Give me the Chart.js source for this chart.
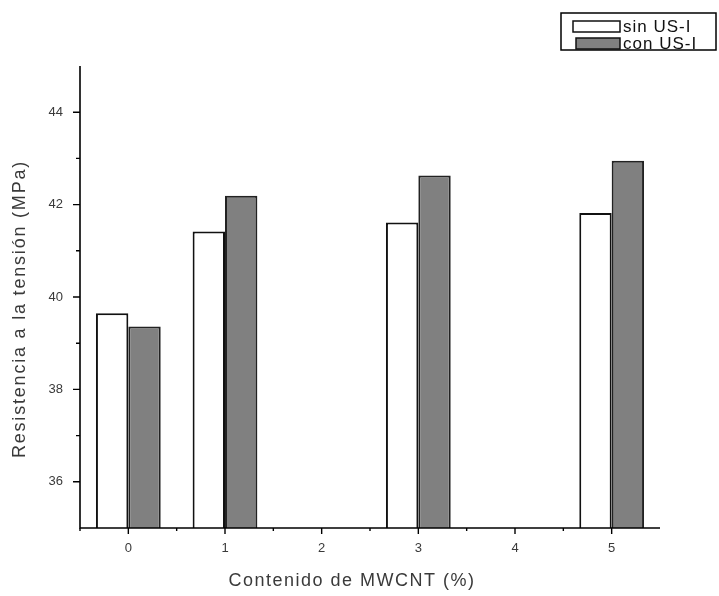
<!DOCTYPE html>
<html>
<head>
<meta charset="utf-8">
<script src="https://cdn.jsdelivr.net/npm/chart.js@4.4.0/dist/chart.umd.min.js"></script>
<style>
  html, body { margin: 0; padding: 0; background: #fff; }
  #wrap { width: 719px; height: 596px; }
</style>
</head>
<body>
<div id="wrap"><canvas id="c" width="719" height="596"></canvas></div>
<script>
// MWCNT content (%) and tensile strength (MPa) for both processing routes
const categories = ['0', '1', '2', '3', '4', '5'];
const sinUS = [39.65, 41.42, null, 41.61, null, 41.82];
const conUS = [39.36, 42.19, null, 42.63, null, 42.95];
const seriesNames = ['sin US-I', 'con US-I'];
const yTicks = [36, 38, 40, 42, 44];
const yMinorTicks = [37, 39, 41, 43];

const FONT = 'Liberation Sans, Arial, sans-serif';
const TEXT = '#3a3a3a';

// Axis lines with outward major/minor tick marks
const axesPlugin = {
  id: 'axesPlugin',
  afterDatasetsDraw(chart) {
    const { ctx, chartArea: a, scales: { x, y } } = chart;
    ctx.save();
    ctx.strokeStyle = '#000';
    ctx.lineWidth = 1.6;
    ctx.beginPath();
    ctx.moveTo(a.left, a.top);
    ctx.lineTo(a.left, a.bottom);
    ctx.lineTo(a.right, a.bottom);
    ctx.stroke();
    ctx.lineWidth = 1.4;
    ctx.beginPath();
    yTicks.forEach(v => { const p = y.getPixelForValue(v); ctx.moveTo(a.left - 7, p); ctx.lineTo(a.left, p); });
    yMinorTicks.forEach(v => { const p = y.getPixelForValue(v); ctx.moveTo(a.left - 4, p); ctx.lineTo(a.left, p); });
    const step = x.getPixelForValue(1) - x.getPixelForValue(0);
    categories.forEach((c, i) => {
      const p = x.getPixelForValue(i);
      ctx.moveTo(p, a.bottom); ctx.lineTo(p, a.bottom + 6);
      ctx.moveTo(p - step / 2, a.bottom); ctx.lineTo(p - step / 2, a.bottom + 3);
    });
    ctx.stroke();
    ctx.restore();
  }
};

// Axis titles: extra tracking and a small offset along the axis
const titleStyle = {
  x: { spacing: '1.5px', dx: -18, dy: 0 },
  y: { spacing: '1.8px', dx: 0, dy: 12 }
};
const wideTitles = {
  id: 'wideTitles',
  beforeDraw(chart) {
    Object.values(chart.scales).forEach(s => {
      if (s._wideTitle) return;
      s._wideTitle = true;
      const st = titleStyle[s.id];
      const base = Object.getPrototypeOf(s).drawTitle;
      s.drawTitle = function () {
        const ctx = this.ctx;
        ctx.save();
        ctx.letterSpacing = st.spacing;
        ctx.translate(st.dx, st.dy);
        base.call(this);
        ctx.restore();
      };
    });
  }
};

// Boxed legend in the upper right corner
const boxLegend = {
  id: 'boxLegend',
  afterDraw(chart) {
    const { ctx } = chart;
    const bx = 561, by = 13, bw = 155, bh = 37;
    ctx.save();
    ctx.fillStyle = '#fff';
    ctx.fillRect(bx, by, bw, bh);
    ctx.strokeStyle = '#000';
    ctx.lineWidth = 1.5;
    ctx.strokeRect(bx, by, bw, bh);
    ctx.font = '17px ' + FONT;
    ctx.letterSpacing = '1px';
    ctx.textBaseline = 'middle';
    chart.data.datasets.forEach((ds, i) => {
      const cy = by + 13 + i * 17;
      const sx = i === 0 ? 573 : 576;
      ctx.fillStyle = ds.backgroundColor;
      ctx.fillRect(sx, cy - 5, 620 - sx, 11);
      ctx.lineWidth = 1.5;
      ctx.strokeStyle = '#111';
      ctx.strokeRect(sx, cy - 5, 620 - sx, 11);
      ctx.fillStyle = '#111';
      ctx.fillText(ds.label, 623, cy + 1);
    });
    ctx.restore();
  }
};

new Chart(document.getElementById('c'), {
  type: 'bar',
  data: {
    labels: categories,
    datasets: [
      { label: seriesNames[0], data: sinUS, backgroundColor: '#ffffff', borderColor: '#111', borderWidth: 2 },
      { label: seriesNames[1], data: conUS, backgroundColor: '#808080', borderColor: '#222', borderWidth: 2 }
    ]
  },
  options: {
    responsive: false,
    devicePixelRatio: 1,
    animation: false,
    layout: { padding: { top: 66, right: 59, bottom: 0, left: 0 } },
    plugins: { legend: { display: false }, tooltip: { enabled: false } },
    datasets: { bar: { categoryPercentage: 0.67, barPercentage: 1.0 } },
    scales: {
      x: {
        type: 'category',
        offset: true,
        grid: { display: false, drawTicks: false },
        border: { display: false },
        ticks: { padding: 13, color: TEXT, font: { family: FONT, size: 13 }, maxRotation: 0 },
        title: { display: true, text: 'Contenido de MWCNT (%)', color: TEXT, font: { family: FONT, size: 18 }, padding: { top: 0, bottom: 4 } },
        afterFit(s) { s.height = 68; }
      },
      y: {
        min: 35,
        max: 45,
        grid: { display: false, drawTicks: false },
        border: { display: false },
        afterBuildTicks(s) { s.ticks = yTicks.map(v => ({ value: v })); },
        ticks: { padding: 17, color: TEXT, font: { family: FONT, size: 13 } },
        title: { display: true, text: 'Resistencia a la tensión (MPa)', color: TEXT, font: { family: FONT, size: 18 }, padding: { top: 9, bottom: 0 } },
        afterFit(s) { s.width = 80; }
      }
    }
  },
  plugins: [axesPlugin, wideTitles, boxLegend]
});
</script>
</body>
</html>
